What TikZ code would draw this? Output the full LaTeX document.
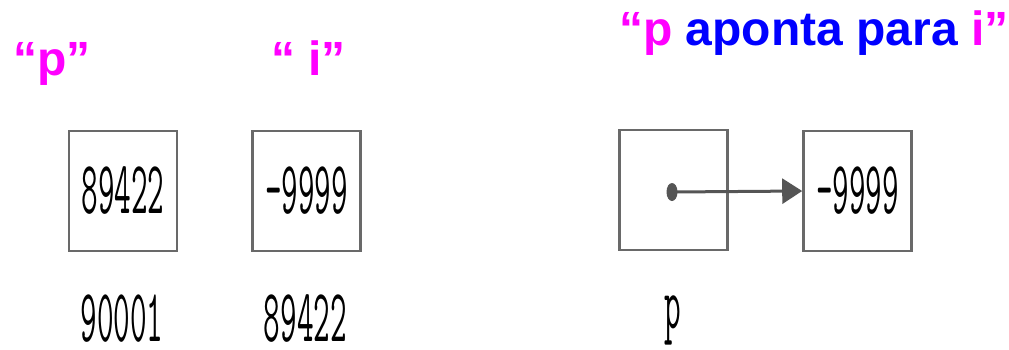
\documentclass[tikz,border=0pt]{standalone}
\usepackage{fontspec}
\setmainfont{Liberation Sans}
\usetikzlibrary{arrows.meta}
\definecolor{mag}{RGB}{255,0,255}
\definecolor{blu}{RGB}{0,0,255}
\definecolor{boxgray}{RGB}{105,105,105}
\definecolor{arrgray}{RGB}{85,85,85}
\newcommand{\digits}[1]{\scalebox{0.43}[1]{#1}}
\begin{document}
\begin{tikzpicture}[x=1pt,y=-1pt,
  cell/.style={draw=boxgray,line width=2.6pt,minimum width=108pt,minimum height=120pt,inner sep=0pt,
    font=\ttfamily\fontsize{75}{75}\selectfont},
  addr/.style={anchor=base,inner sep=0pt,font=\ttfamily\fontsize{75}{75}\selectfont},
  title/.style={anchor=base west,inner sep=0pt,font=\bfseries\fontsize{48}{48}\selectfont}]
\useasboundingbox (0,0) rectangle (1009,349);
% titles
\node[title,text=mag] (tp) at (13,75) {“p”};
\node[title,text=mag] (ti) at (271,75) {“ i”};
\node[title] (tr) at (619,45) {\textcolor{mag}{“p} \textcolor{blu}{aponta para} \textcolor{mag}{i”}};
% boxes
\node[cell] (b1) at (123,191) {\digits{89422}};
\node[cell] (b2) at (306.5,191) {\digits{-9999}};
\node[cell] (b3) at (673.5,190) {};
\node[cell] (b4) at (857.5,191) {\digits{-9999}};
% addresses
\node[addr] (a1) at (122,341) {\digits{90001}};
\node[addr] (a2) at (305.5,341) {\digits{89422}};
\node[addr] (a3) at (673,328) {\digits{p}};
% pointer
\coordinate (dot) at (672,192);
\fill[arrgray] (dot) ellipse [x radius=5.5pt, y radius=9pt];
\draw[arrgray,line width=3pt,-{Triangle[length=20pt,width=25pt]}] (dot) -- (b4.west);
\end{tikzpicture}
\end{document}
